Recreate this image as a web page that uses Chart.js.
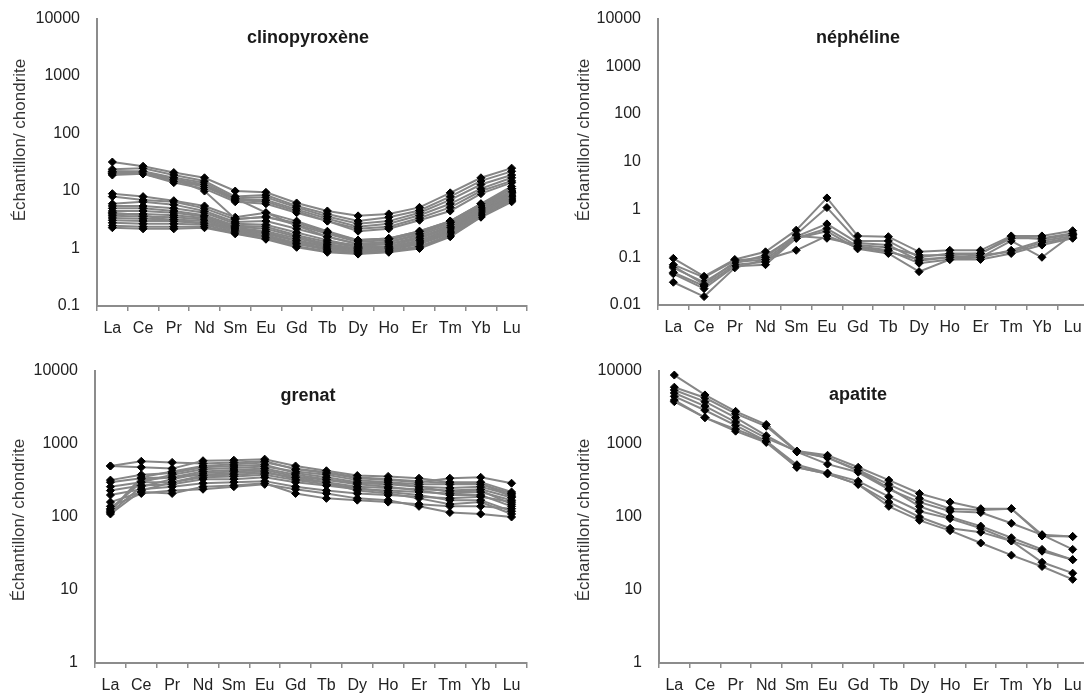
<!DOCTYPE html>
<html>
<head>
<meta charset="utf-8">
<script src="https://cdn.jsdelivr.net/npm/chart.js"></script>
<style>
html, body { margin: 0; padding: 0; background: #fff; overflow: hidden; width: 1084px; height: 697px; }
canvas { position: absolute; }
</style>
</head>
<body>
<canvas id="cpx" style="left:0px;top:0px;width:540px;height:345px" width="540" height="345"></canvas>
<canvas id="nph" style="left:540px;top:0px;width:556px;height:345px" width="556" height="345"></canvas>
<canvas id="grt" style="left:0px;top:345px;width:540px;height:352px" width="540" height="352"></canvas>
<canvas id="apt" style="left:540px;top:345px;width:556px;height:352px" width="556" height="352"></canvas>
<script>
const elements = ['La', 'Ce', 'Pr', 'Nd', 'Sm', 'Eu', 'Gd', 'Tb', 'Dy', 'Ho', 'Er', 'Tm', 'Yb', 'Lu'];
const yTitle = 'Échantillon/ chondrite';

const cpxTicks = [0.1, 1, 10, 100, 1000, 10000];
const nphTicks = [0.01, 0.1, 1, 10, 100, 1000, 10000];
const grtTicks = [1, 10, 100, 1000, 10000];
const aptTicks = [1, 10, 100, 1000, 10000];

// clinopyroxene samples, chondrite normalised
const cpxSamples = [
    [32, 27, 21, 17, 10, 9.5, 6.2, 4.5, 3.7, 4.0, 5.2, 9.3, 17, 25],
    [24, 25, 19, 15, 8, 8.5, 5.5, 4.0, 3.0, 3.5, 4.6, 8, 15, 22],
    [22, 22, 17, 14, 7.5, 7.8, 5.2, 3.6, 2.7, 3.0, 4.2, 7, 13, 19],
    [21, 21, 16, 13, 7, 7, 4.8, 3.3, 2.4, 2.7, 3.8, 6, 11, 17],
    [20, 20, 15, 12, 7, 6.5, 4.5, 3.0, 2.2, 2.4, 3.4, 5.2, 10, 15],
    [19, 20, 14, 11, 6.5, 6, 4.2, 3.0, 2.0, 2.2, 3.1, 4.5, 9, 14],
    [22, 21, 16, 10, 3.3, 3.5, 2.8, 1.9, 1.4, 1.5, 2.0, 3.0, 6, 11],
    [20, 20, 15, 12.5, 7.5, 4.2, 2.5, 1.6, 1.2, 1.3, 1.8, 2.8, 5.5, 10],
    [9, 8, 6.8, 5.5, 3.5, 4.2, 3.0, 2.0, 1.4, 1.5, 2.0, 3.0, 6, 12],
    [8, 7, 6.5, 5, 3.2, 3.6, 2.6, 1.8, 1.3, 1.4, 1.9, 2.8, 5.5, 11],
    [6, 6.5, 5.8, 4.5, 2.9, 3.0, 2.2, 1.6, 1.2, 1.3, 1.7, 2.6, 5.2, 10],
    [5.5, 5.5, 5, 4.2, 2.7, 2.6, 1.9, 1.4, 1.1, 1.2, 1.6, 2.4, 5, 9.5],
    [5, 5, 4.5, 3.8, 2.5, 2.4, 1.7, 1.3, 1.05, 1.1, 1.5, 2.3, 4.8, 9],
    [4.5, 4.5, 4.2, 3.6, 2.4, 2.2, 1.6, 1.2, 1.0, 1.05, 1.4, 2.2, 4.6, 8.5],
    [4, 4, 3.8, 3.4, 2.3, 2.0, 1.5, 1.15, 0.95, 1.0, 1.35, 2.1, 4.4, 8.2],
    [3.7, 3.6, 3.5, 3.2, 2.2, 1.9, 1.4, 1.1, 0.92, 0.98, 1.3, 2.0, 4.2, 8],
    [3.4, 3.3, 3.2, 3.0, 2.1, 1.8, 1.35, 1.05, 0.9, 0.95, 1.25, 1.9, 4.0, 7.6],
    [3.1, 3.0, 3.0, 2.8, 2.0, 1.7, 1.25, 1.0, 0.88, 0.92, 1.2, 1.8, 3.9, 7.3],
    [2.8, 2.7, 2.7, 2.6, 1.9, 1.6, 1.2, 0.95, 0.85, 0.9, 1.1, 1.7, 3.7, 7],
    [2.5, 2.4, 2.4, 2.4, 1.85, 1.5, 1.1, 0.9, 0.82, 0.88, 1.05, 1.65, 3.6, 6.8],
    [2.3, 2.2, 2.2, 2.3, 1.8, 1.45, 1.05, 0.86, 0.8, 0.86, 1.0, 1.6, 3.5, 6.5],
    [4.2, 3.8, 3.0, 2.7, 2.2, 1.6, 1.15, 1.3, 1.15, 1.2, 1.5, 2.5, 5, 9.5]
];

// nepheline samples
const nphSamples = [
    [0.095, 0.04, 0.09, 0.13, 0.37, 1.75, 0.28, 0.27, 0.13, 0.14, 0.14, 0.28, 0.28, 0.36],
    [0.07, 0.038, 0.085, 0.1, 0.3, 1.1, 0.22, 0.22, 0.1, 0.12, 0.12, 0.25, 0.25, 0.32],
    [0.065, 0.027, 0.08, 0.09, 0.27, 0.5, 0.2, 0.18, 0.085, 0.1, 0.1, 0.22, 0.1, 0.3],
    [0.048, 0.025, 0.07, 0.08, 0.25, 0.4, 0.17, 0.14, 0.075, 0.09, 0.1, 0.14, 0.22, 0.28],
    [0.045, 0.022, 0.065, 0.07, 0.25, 0.35, 0.15, 0.12, 0.05, 0.09, 0.09, 0.12, 0.18, 0.25],
    [0.03, 0.015, 0.06, 0.09, 0.14, 0.28, 0.16, 0.13, 0.09, 0.1, 0.11, 0.13, 0.2, 0.26],
    [0.06, 0.03, 0.075, 0.11, 0.28, 0.25, 0.18, 0.16, 0.11, 0.11, 0.12, 0.27, 0.24, 0.3]
];

// garnet samples
const grtSamples = [
    [500, 580, 560, 540, 560, 580, 450, 400, 340, 320, 300, 340, 350, 290],
    [500, 480, 460, 590, 600, 620, 500, 430, 370, 360, 340, 300, 300, 220],
    [320, 380, 400, 480, 500, 520, 400, 350, 300, 300, 280, 280, 280, 210],
    [300, 340, 350, 420, 440, 460, 380, 330, 290, 280, 260, 250, 260, 200],
    [260, 300, 300, 370, 380, 400, 350, 300, 260, 250, 240, 230, 240, 185],
    [230, 270, 280, 330, 330, 350, 300, 270, 240, 230, 220, 210, 220, 170],
    [200, 240, 260, 290, 300, 310, 260, 230, 210, 200, 190, 180, 190, 160],
    [160, 220, 210, 260, 270, 290, 210, 180, 170, 160, 150, 140, 140, 130],
    [140, 210, 230, 240, 260, 280, 240, 210, 180, 170, 140, 115, 110, 100],
    [130, 300, 380, 450, 470, 490, 420, 380, 320, 300, 260, 220, 230, 150],
    [120, 350, 420, 500, 530, 560, 460, 410, 350, 330, 310, 290, 290, 190],
    [115, 260, 330, 400, 420, 440, 360, 320, 280, 260, 230, 200, 200, 140],
    [110, 230, 300, 350, 360, 380, 320, 280, 250, 220, 200, 170, 170, 120],
    [125, 320, 350, 380, 400, 420, 330, 300, 230, 210, 180, 150, 160, 110]
];

// apatite samples
const aptSamples = [
    [8800, 4700, 2800, 1850, 800, 700, 480, 320, 210, 160, 130, 130, 57, 54],
    [6000, 4300, 2600, 1750, 780, 650, 440, 280, 180, 130, 125, 130, 55, 54],
    [5500, 3800, 2300, 1300, 780, 530, 410, 240, 160, 120, 115, 82, 57, 36],
    [5000, 3300, 2000, 1200, 800, 650, 430, 250, 140, 100, 75, 52, 36, 26],
    [4500, 2900, 1800, 1100, 520, 400, 310, 190, 120, 95, 70, 47, 34, 26],
    [4000, 2300, 1600, 1100, 480, 390, 280, 160, 100, 70, 62, 47, 24, 17],
    [3800, 2300, 1500, 1050, 480, 390, 280, 140, 90, 65, 44, 30, 21, 14]
];

Chart.defaults.font.family = '"Liberation Sans", Arial, sans-serif';

// draws the mineral name and the rotated y title where excel had them
const panelText = {
    id: 'panelText',
    afterDraw(chart, args, opts) {
        const ctx = chart.ctx;
        ctx.save();
        ctx.fillStyle = '#1a1a1a';
        ctx.textAlign = 'center';
        ctx.textBaseline = 'middle';
        ctx.font = 'bold 18px "Liberation Sans", Arial, sans-serif';
        ctx.fillText(opts.title, opts.titleX, opts.titleY);
        ctx.translate(opts.yTitleX, opts.yTitleY);
        ctx.rotate(-Math.PI / 2);
        ctx.font = '17px "Liberation Sans", Arial, sans-serif';
        ctx.fillStyle = '#333';
        ctx.fillText(yTitle, 0, 0);
        ctx.restore();
    }
};

function makeChart(id, samples, decades, title, box) {
    return new Chart(document.getElementById(id), {
        type: 'line',
        data: {
            labels: elements,
            datasets: samples.map(s => ({
                data: s,
                borderColor: '#868686',
                borderWidth: 2,
                pointStyle: 'rectRot',
                pointRadius: 4,
                pointBackgroundColor: '#000',
                pointBorderColor: '#000',
                pointBorderWidth: 1,
                tension: 0
            }))
        },
        options: {
            responsive: false,
            animation: false,
            layout: { padding: { top: box.top, right: box.right, left: 0, bottom: 0 } },
            plugins: {
                legend: { display: false },
                tooltip: { enabled: false },
                panelText: {
                    title: title,
                    titleX: box.titleX, titleY: box.titleY,
                    yTitleX: box.yTitleX, yTitleY: box.yTitleY
                }
            },
            scales: {
                x: {
                    offset: true,
                    grid: { display: true, drawOnChartArea: false, offset: true, tickLength: 5, color: '#8c8c8c', lineWidth: 1.5 },
                    border: { color: '#8c8c8c', width: 2 },
                    ticks: { color: '#222', font: { size: 16 }, padding: 8, maxRotation: 0, autoSkip: false },
                    afterFit: s => { s.height = box.xh; }
                },
                y: {
                    type: 'logarithmic',
                    min: decades[0],
                    max: decades[decades.length - 1],
                    afterBuildTicks: s => { s.ticks = decades.map(v => ({ value: v })); },
                    grid: { display: false },
                    border: { color: '#8c8c8c', width: 2 },
                    ticks: { color: '#222', font: { size: 16 }, padding: 9, callback: v => String(v) },
                    afterFit: s => { s.width = box.yw; }
                }
            }
        },
        plugins: [panelText]
    });
}

makeChart('cpx', cpxSamples, cpxTicks, 'clinopyroxène',
    { top: 16, right: 13, xh: 39, yw: 97, titleX: 308, titleY: 38, yTitleX: 20, yTitleY: 140 });
makeChart('nph', nphSamples, nphTicks, 'néphéline',
    { top: 16, right: 8, xh: 40, yw: 118, titleX: 318, titleY: 38, yTitleX: 44, yTitleY: 140 });
makeChart('grt', grtSamples, grtTicks, 'grenat',
    { top: 26, right: 13, xh: 34, yw: 95, titleX: 308, titleY: 51, yTitleX: 19, yTitleY: 175 });
makeChart('apt', aptSamples, aptTicks, 'apatite',
    { top: 26, right: 8, xh: 34, yw: 119, titleX: 318, titleY: 50, yTitleX: 44, yTitleY: 175 });
</script>
</body>
</html>
